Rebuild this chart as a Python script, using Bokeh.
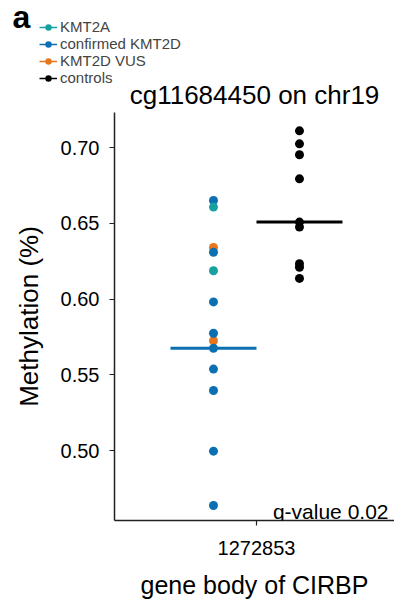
import numpy as np
from bokeh.plotting import figure
from bokeh.layouts import column
from bokeh.models import (ColumnDataSource, FixedTicker, Label, Legend, LegendItem,
                          Range1d, PrintfTickFormatter)
from bokeh.embed import file_html
from bokeh.resources import INLINE

# ---- data ----
title_text = "cg11684450 on chr19"
site_label = "1272853"
region_label = "gene body of CIRBP"
q_value = 0.02
group_names = ["KMT2A", "confirmed KMT2D", "KMT2D VUS", "controls"]
group_colors = ["#17a0a0", "#0b6fb2", "#e8761c", "#000000"]

kmt2a = [0.6608, 0.6188]
kmt2d_confirmed = [0.6652, 0.6310, 0.5982, 0.5775, 0.5676, 0.5538, 0.5397, 0.4996, 0.4637]
kmt2d_vus = [0.6341, 0.5725]
controls = [0.7112, 0.7026, 0.6954, 0.6795, 0.6509, 0.6476, 0.6234, 0.6211, 0.6137]

y_ticks = [0.50, 0.55, 0.60, 0.65, 0.70]

PATIENT_X = -0.5
CONTROL_X = 0.5
FONT = "Liberation Sans"
W = 394
TOP_H = 112
group_values = [kmt2a, kmt2d_confirmed, kmt2d_vus, controls]
group_x = [PATIENT_X, PATIENT_X, PATIENT_X, CONTROL_X]

# ---------- header strip (panel letter, legend, title) ----------
# its ranges lie away from the data, so the data renderers here only feed the legend
top = figure(width=W, height=TOP_H, output_backend="svg", toolbar_location=None,
             x_range=Range1d(5, 6), y_range=Range1d(5, 6),
             x_axis_type=None, y_axis_type=None,
             min_border_left=0, min_border_right=0, min_border_top=0, min_border_bottom=0)
top.frame_align = False
top.outline_line_color = None
top.grid.visible = False

legend_items = []
for gi, name in enumerate(group_names):
    vals = group_values[gi]
    src = ColumnDataSource(dict(x=[group_x[gi]] * len(vals), y=vals))
    lr = top.line("x", "y", source=src, line_color=group_colors[gi], line_width=1.5)
    sr = top.scatter("x", "y", source=src, size=9, color=group_colors[gi], line_color=None)
    legend_items.append(LegendItem(label=name, renderers=[lr, sr]))
legend = Legend(items=legend_items, location=(39, 26), padding=0, margin=0,
                spacing=0, glyph_width=18, glyph_height=16, label_height=16,
                label_standoff=3, label_text_font=FONT, label_text_font_size="15px",
                label_text_line_height=1.0,
                border_line_color=None, background_fill_alpha=0)
top.add_layout(legend, "center")

top.add_layout(Label(x=12, y=TOP_H - 16, x_units="screen", y_units="screen",
                     text="a", text_font=FONT, text_font_size="32px", text_font_style="bold",
                     text_align="left", text_baseline="alphabetic", text_color="black"))
top.add_layout(Label(x=(114 + W) / 2, y=TOP_H - 94, x_units="screen", y_units="screen",
                     text=title_text, text_font=FONT, text_font_size="26px",
                     text_align="center", text_baseline="alphabetic", text_color="black"))

# ---------- main plot ----------
p = figure(width=W, height=605 - TOP_H, output_backend="svg", toolbar_location=None,
           x_range=Range1d(-1.651, 1.605), y_range=Range1d(0.4538, 0.7233),
           min_border_left=114, min_border_right=0, min_border_top=0,
           min_border_bottom=85)
p.frame_align = False
p.outline_line_color = None
p.grid.visible = False
p.background_fill_color = "white"

series = [(kmt2d_vus, 2), (kmt2d_confirmed, 1), (kmt2a, 0)]
for vals, gi in series:
    src = ColumnDataSource(dict(x=[PATIENT_X] * len(vals), y=vals))
    p.scatter("x", "y", source=src, size=9, color=group_colors[gi], line_color=None)
src_c = ColumnDataSource(dict(x=[CONTROL_X] * len(controls), y=controls))
p.scatter("x", "y", source=src_c, size=9, color="black", line_color=None)

# medians
med_p = float(np.median(kmt2d_confirmed))
med_c = float(np.median(controls))
p.line([PATIENT_X - 0.5, PATIENT_X + 0.5], [med_p, med_p], line_width=3,
       line_color=group_colors[1])
p.line([CONTROL_X - 0.5, CONTROL_X + 0.5], [med_c, med_c], line_width=3,
       line_color="black")

# axes
for ax in (p.xaxis[0], p.yaxis[0]):
    ax.axis_line_color = "#222222"
    ax.axis_line_width = 1.5
    ax.major_tick_line_color = "#222222"
    ax.major_tick_line_width = 1.2
    ax.major_tick_out = 5
    ax.major_tick_in = 0
    ax.minor_tick_line_color = None
    ax.major_label_text_font = FONT
    ax.major_label_text_font_size = "20px"
    ax.major_label_text_color = "black"
    ax.axis_label_text_font = FONT
    ax.axis_label_text_font_style = "normal"
    ax.axis_label_text_color = "black"
    ax.axis_label_text_font_size = "26px"

p.yaxis.ticker = FixedTicker(ticks=y_ticks)
p.yaxis.formatter = PrintfTickFormatter(format="%.2f")
p.yaxis.axis_label = "Methylation (%)"
p.yaxis.major_label_standoff = 10
p.yaxis.axis_label_standoff = 14

p.xaxis.ticker = FixedTicker(ticks=[0])
p.xaxis.major_label_overrides = {0: site_label}
p.xaxis.axis_label = region_label
p.xaxis.axis_label_text_font_size = "25px"
p.xaxis.major_label_standoff = 15
p.xaxis.axis_label_standoff = 13

p.add_layout(Label(x=274, y=9, x_units="screen", y_units="screen",
                   text=f"q-value {q_value:.2f}", text_font=FONT, text_font_size="21px",
                   text_align="right", text_baseline="alphabetic", text_color="black"))

layout = column(top, p, spacing=0)
open("out.html", "w").write(file_html(layout, INLINE))
